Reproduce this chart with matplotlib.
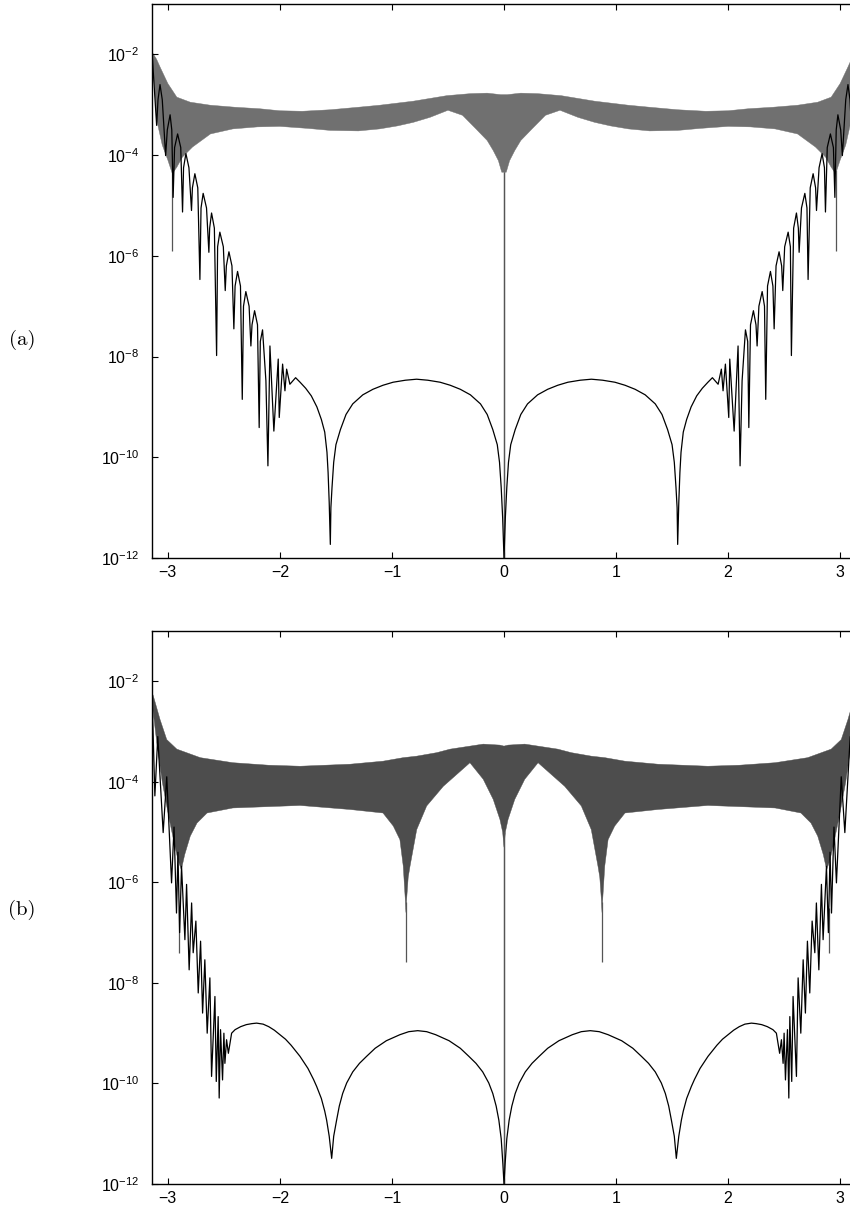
import numpy as np
import matplotlib
matplotlib.use("Agg")
import matplotlib.pyplot as plt

plt.rcParams["font.family"] = ["Liberation Sans", "DejaVu Sans"]
plt.rcParams["mathtext.fontset"] = "custom"
plt.rcParams["mathtext.rm"] = "Liberation Sans"
plt.rcParams["mathtext.it"] = "Liberation Sans:italic"

# values, left half only (x <= 0), exponents of 10
# the picture is mirror symmetric about x = 0

# (a) grey band: upper and lower edge
a_up_x = [-3.1416, -3.10, -3.07, -3.00, -2.92, -2.80, -2.62, -2.40, -2.18, -2.00,
          -1.80, -1.55, -1.30, -1.11, -0.81, -0.51, -0.30, -0.15, -0.03]
a_up_e = [-1.95, -2.10, -2.25, -2.58, -2.85, -2.95, -3.01, -3.05, -3.08, -3.12,
          -3.13, -3.10, -3.05, -3.01, -2.93, -2.82, -2.78, -2.77, -2.80]
a_lo_x = [-3.1416, -3.10, -3.05, -3.00, -2.96, -2.92, -2.87, -2.78, -2.62, -2.42,
          -2.20, -2.00, -1.75, -1.55, -1.30, -1.11, -0.95, -0.81, -0.66, -0.50,
          -0.37, -0.25, -0.15, -0.096, -0.05, -0.02]
a_lo_e = [-1.95, -3.30, -3.80, -4.10, -4.37, -4.24, -4.04, -3.84, -3.58, -3.48,
          -3.44, -3.43, -3.47, -3.51, -3.52, -3.48, -3.42, -3.35, -3.25, -3.11,
          -3.21, -3.48, -3.71, -3.91, -4.11, -4.34]
# (a) thin grey spikes: x, bottom, top
a_spk_x = [-2.96, 0.0]
a_spk_lo = [-5.90, -12.0]
a_spk_hi = [-4.30, -4.34]
# (a) black curve: lobes (dip, shoulder, peak, shoulder, dip ...), noisy part, arches
a_blk_x = [-3.1416, -3.10, -3.088, -3.07, -3.05, -3.02, -3.005, -2.98, -2.965, -2.953,
           -2.94, -2.913, -2.885, -2.869, -2.860, -2.839, -2.812, -2.789, -2.781, -2.759,
           -2.733, -2.714, -2.704, -2.685, -2.655, -2.634, -2.627, -2.610, -2.585, -2.565,
           -2.556, -2.536, -2.505, -2.488, -2.478, -2.455, -2.428, -2.411, -2.400, -2.378,
           -2.352, -2.336, -2.325, -2.304, -2.275, -2.259, -2.249, -2.226, -2.200, -2.185,
           -2.175, -2.155, -2.125, -2.107, -2.089, -2.054, -2.015, -2.006, -1.976, -1.955,
           -1.940, -1.911, -1.860, -1.82, -1.77, -1.72, -1.67, -1.63, -1.60, -1.58,
           -1.57, -1.56, -1.55, -1.545, -1.535, -1.52, -1.50, -1.46, -1.41, -1.35,
           -1.26, -1.17, -1.08, -0.99, -0.88, -0.78, -0.68, -0.57, -0.48, -0.39,
           -0.30, -0.21, -0.15, -0.10, -0.06, -0.04, -0.025, -0.012, 0.0]
a_blk_e = [-1.95, -3.41, -2.90, -2.60, -2.90, -4.01, -3.50, -3.20, -3.50, -4.84,
           -3.85, -3.58, -3.85, -5.13, -4.25, -3.97, -4.25, -5.10, -4.65, -4.37,
           -4.65, -6.47, -5.05, -4.76, -5.05, -5.93, -5.45, -5.15, -5.45, -7.98,
           -5.82, -5.53, -5.82, -6.69, -6.20, -5.92, -6.20, -7.45, -6.60, -6.31,
           -6.60, -8.85, -7.00, -6.71, -7.00, -7.79, -7.37, -7.09, -7.37, -9.41,
           -7.70, -7.47, -8.48, -10.17, -7.79, -9.48, -8.05, -9.21, -8.15, -8.68,
           -8.25, -8.55, -8.42, -8.51, -8.63, -8.78, -9.00, -9.25, -9.50, -9.90,
           -10.30, -10.90, -11.73, -11.00, -10.60, -10.10, -9.75, -9.45, -9.15, -8.94,
           -8.76, -8.65, -8.57, -8.51, -8.47, -8.45, -8.47, -8.51, -8.57, -8.65,
           -8.76, -8.94, -9.15, -9.45, -9.75, -10.10, -10.60, -11.20, -12.0]

# (b) grey band
b_up_x = [-3.1416, -3.13, -3.07, -3.01, -2.92, -2.71, -2.42, -2.10, -1.82, -1.375,
          -1.08, -0.90, -0.78, -0.60, -0.48, -0.185, -0.036, 0.0]
b_up_e = [-2.22, -2.29, -2.76, -3.16, -3.35, -3.52, -3.62, -3.67, -3.69, -3.65,
          -3.59, -3.52, -3.49, -3.42, -3.35, -3.25, -3.27, -3.29]
b_lo_x = [-3.1416, -3.10, -3.05, -3.00, -2.95, -2.91, -2.88, -2.85, -2.80, -2.74,
          -2.65, -2.42, -1.82, -1.375, -1.08, -0.988, -0.929, -0.899, -0.881, -0.875,
          -0.869, -0.855, -0.839, -0.779, -0.690, -0.542, -0.304, -0.185, -0.096, -0.036,
          -0.012, 0.0]
b_lo_e = [-2.40, -3.20, -4.00, -4.60, -5.15, -5.55, -5.75, -5.45, -5.08, -4.82,
          -4.62, -4.52, -4.47, -4.55, -4.62, -4.88, -5.15, -5.68, -6.34, -6.60,
          -6.34, -5.90, -5.68, -4.95, -4.48, -4.09, -3.62, -3.95, -4.35, -4.75,
          -5.00, -5.30]
b_spk_x = [-2.899, -0.873, 0.0]
b_spk_lo = [-7.40, -7.58, -12.0]
b_spk_hi = [-6.50, -6.40, -5.00]
b_blk_x = [-3.1416, -3.116, -3.09, -3.042, -3.01, -2.967, -2.945, -2.923, -2.910, -2.895,
           -2.878, -2.848, -2.833, -2.810, -2.788, -2.774, -2.750, -2.729, -2.708, -2.690,
           -2.670, -2.649, -2.625, -2.610, -2.580, -2.568, -2.551, -2.542, -2.530, -2.512,
           -2.500, -2.491, -2.476, -2.460, -2.431, -2.40, -2.35, -2.30, -2.25, -2.208,
           -2.15, -2.10, -2.05, -2.00, -1.95, -1.90, -1.821, -1.75, -1.70, -1.672,
           -1.63, -1.60, -1.583, -1.56, -1.538, -1.52, -1.494, -1.47, -1.44, -1.404,
           -1.35, -1.29, -1.226, -1.15, -1.05, -0.929, -0.85, -0.77, -0.69, -0.61,
           -0.49, -0.39, -0.314, -0.25, -0.19, -0.136, -0.10, -0.07, -0.046, -0.025,
           -0.01, 0.0]
b_blk_e = [-2.25, -4.28, -3.10, -5.01, -3.90, -6.01, -4.90, -6.61, -5.40, -7.00,
           -5.68, -7.14, -6.04, -7.74, -6.41, -7.40, -6.77, -8.20, -7.17, -8.60,
           -7.54, -9.00, -7.90, -9.86, -8.27, -9.96, -8.67, -10.29, -8.93, -9.93,
           -9.00, -9.60, -9.13, -9.40, -9.00, -8.93, -8.87, -8.83, -8.81, -8.80,
           -8.82, -8.87, -8.94, -9.03, -9.12, -9.24, -9.46, -9.70, -9.92, -10.06,
           -10.30, -10.55, -10.73, -11.05, -11.49, -11.05, -10.73, -10.45, -10.20, -9.99,
           -9.77, -9.60, -9.46, -9.30, -9.15, -9.03, -8.97, -8.95, -8.97, -9.03,
           -9.15, -9.30, -9.46, -9.60, -9.77, -9.99, -10.20, -10.45, -10.73, -11.10,
           -11.60, -12.0]

x_ticks = [-3, -2, -1, 0, 1, 2, 3]
y_ticks = [1e-12, 1e-10, 1e-8, 1e-6, 1e-4, 1e-2]


def mirror(xs, es):
    """Both halves of a symmetric series, y as real values."""
    x = np.asarray(xs)
    e = np.asarray(es)
    return np.concatenate([x, -x[::-1]]), 10.0 ** np.concatenate([e, e[::-1]])


def draw_panel(ax, up, lo, spk, blk, band_color):
    ux, uy = mirror(*up)
    lx, ly = mirror(*lo)
    ax.fill(np.concatenate([ux, lx[::-1]]), np.concatenate([uy, ly[::-1]]),
            color=band_color, lw=0.3, zorder=1)
    sx, slo, shi = (np.asarray(v) for v in spk)
    sx = np.concatenate([sx, -sx])
    ax.vlines(sx, 10.0 ** np.concatenate([slo, slo]), 10.0 ** np.concatenate([shi, shi]),
              color="#555555", lw=0.9, zorder=2)
    bx, by = mirror(*blk)
    ax.plot(bx, by, color="black", lw=0.9, zorder=3)

    ax.set_yscale("log")
    ax.set_xlim(-np.pi, np.pi)
    ax.set_ylim(1e-12, 1e-1)
    ax.set_xticks(x_ticks)
    ax.set_yticks(y_ticks)
    ax.minorticks_off()
    ax.tick_params(direction="in", top=True, right=True, length=4.5, width=0.8,
                   labelsize=11.5)
    ax.tick_params(axis="x", pad=5)
    ax.tick_params(axis="y", pad=9)
    for s in ax.spines.values():
        s.set_linewidth(1.0)


fig = plt.figure(figsize=(8.5, 12.1), dpi=100)
ax_a = fig.add_axes([152 / 850, 1 - 558 / 1210, 704 / 850, 554 / 1210])
ax_b = fig.add_axes([152 / 850, 1 - 1184 / 1210, 704 / 850, 553 / 1210])

draw_panel(ax_a, (a_up_x, a_up_e), (a_lo_x, a_lo_e), (a_spk_x, a_spk_lo, a_spk_hi),
           (a_blk_x, a_blk_e), "#707070")
draw_panel(ax_b, (b_up_x, b_up_e), (b_lo_x, b_lo_e), (b_spk_x, b_spk_lo, b_spk_hi),
           (b_blk_x, b_blk_e), "#4d4d4d")

fig.text(22 / 850, 1 - 340 / 1210, "(a)", family="cmr10", fontsize=15,
         ha="center", va="center")
fig.text(22 / 850, 1 - 910 / 1210, "(b)", family="cmr10", fontsize=15,
         ha="center", va="center")

fig.savefig("out.png", dpi=100)
